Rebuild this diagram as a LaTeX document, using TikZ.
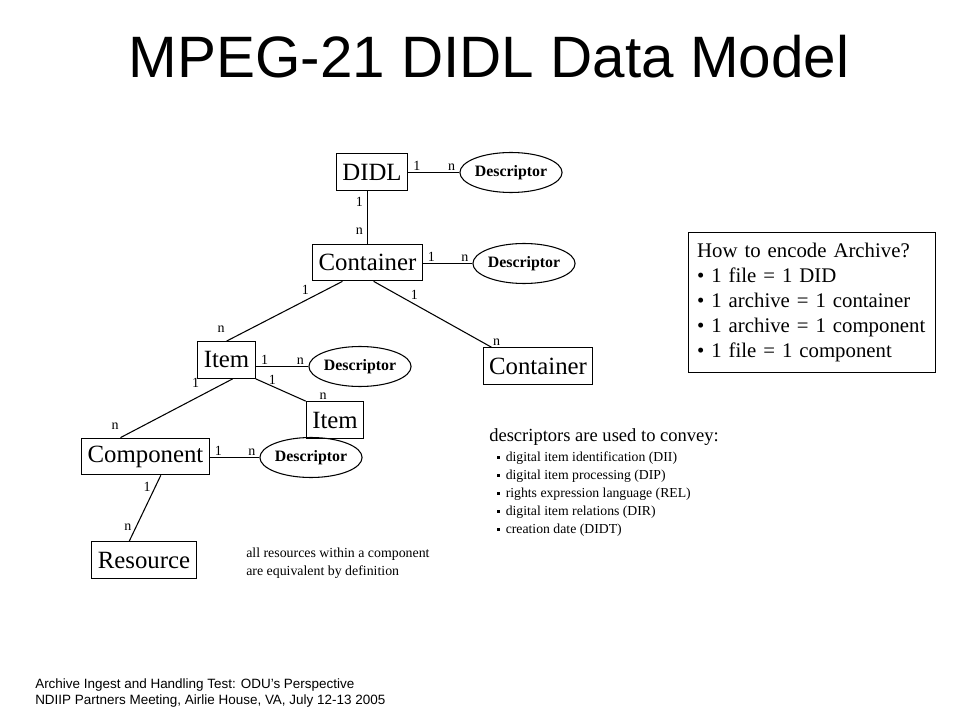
\documentclass[tikz,border=0pt]{standalone}
\usepackage{fontspec}
\setmainfont{Liberation Serif}
\newfontfamily\arialfont{Liberation Sans}
\usetikzlibrary{shapes.geometric, positioning}

\tikzset{
  entity/.style={draw, rectangle, line width=.8pt, inner xsep=4.5pt, minimum height=27.5pt, font=\fontsize{18.6}{20}\selectfont},
  descr/.style={draw, ellipse, line width=.8pt, minimum width=72.75pt, minimum height=30pt, inner sep=0pt, font=\bfseries\fontsize{11.9}{13}\selectfont},
  card/.style={inner sep=1pt, font=\fontsize{10.5}{12}\selectfont},
  link/.style={line width=.8pt},
  note/.style={inner sep=0pt, align=left},
}
\newcommand\sqbul{\rule[.45ex]{2.4pt}{2.4pt}\hspace{4pt}}

\begin{document}
\begin{tikzpicture}[x=.75pt, y=-.75pt]
    \useasboundingbox (0,0) rectangle (960,720);

    % Title
    \node (title) at (489,57) {\arialfont\fontsize{43.8}{50}\selectfont MPEG-21 DIDL Data Model};

    % Entities
    \node[entity] (didl) at (372,172) {DIDL};
    \node[entity] (cont) at (367.5,262.5) {Container};
    \node[entity] (item) at (226.5,360) {Item};
    \node[entity] (cont2) at (538,366) {Container};
    \node[entity] (item2) at (335,420) {Item};
    \node[entity] (comp) at (145.5,456.5) {Component};
    \node[entity] (res) at (144,560) {Resource};

    % Descriptors
    \node[descr] (d1) at (511,172.5) {Descriptor};
    \node[descr] (d2) at (524,263.5) {Descriptor};
    \node[descr] (d3) at (360,366.5) {Descriptor};
    \node[descr] (d4) at (311,457.5) {Descriptor};

    % Entity to descriptor (1 to n)
    \foreach \a/\d in {didl/d1, cont/d2, item/d3, comp/d4} {
        \draw[link] (\a.east |- \d) -- node[card, pos=.17, above] (\a-one) {1}
            node[card, pos=.85, above] (\a-n) {n} (\d);
    }

    % Entity to entity
    \draw[link] (cont |- didl.south) -- node[card, pos=.2, left=2pt] (dc-one) {1}
        node[card, pos=.77, left=2pt] (dc-n) {n} (cont.north);
    \draw[link] (cont.-143) -- node[card, pos=.32, above=3pt] (ci-one) {1}
        node[card, at end, anchor=south east, yshift=5pt] (ci-n) {n} (item.north);
    \draw[link] (cont.-72) -- node[card, pos=.3, above right] (cc-one) {1}
        node[card, at end, anchor=south west] (cc-n) {n} (cont2.158);
    \draw[link] (item.south east) -- node[card, pos=.33, above] (ii-one) {1}
        node[card, at end, anchor=south west, xshift=9pt] (ii-n) {n} (item2.north west);
    \draw[link] (item.-72) -- node[card, pos=.33, above=6.5pt] (ic-one) {1}
        node[card, at end, anchor=south east, yshift=5pt] (ic-n) {n} (comp.143);
    \draw[link] (comp.-51) -- node[card, pos=.18, left=2pt] (cr-one) {1}
        node[card, pos=.79, left=2pt] (cr-n) {n} (res.128);

    % Notes
    \node[note, anchor=west, font=\fontsize{10.4}{13.5}\selectfont] (equiv) at (246,563)
        {all resources within a component\\are equivalent by definition};
    \node[note, anchor=west, font=\fontsize{13.9}{16}\selectfont] (dhead) at (489,437)
        {descriptors are used to convey:};
    \node[note, below=4.5pt of dhead.south west, anchor=north west, xshift=6pt,
        font=\fontsize{10.3}{13.5}\selectfont] (dlist)
        {\sqbul digital item identification (DII)\\
         \sqbul digital item processing (DIP)\\
         \sqbul rights expression language (REL)\\
         \sqbul digital item relations (DIR)\\
         \sqbul creation date (DIDT)};

    % Archive box
    \node[draw, line width=.8pt, anchor=north west, text width=172pt, inner xsep=6.5pt,
        minimum height=105pt, align=left, font=\fontsize{15.6}{18.75}\selectfont] (howto) at (688,232)
        {How to encode Archive?\\
         • 1 file = 1 DID\\
         • 1 archive = 1 container\\
         • 1 archive = 1 component\\
         • 1 file = 1 component};

    % Footer
    \node[note, anchor=west, font=\arialfont\fontsize{10.1}{12}\selectfont] (foot) at (35,693)
        {Archive Ingest and Handling Test: ODU’s Perspective\\
         NDIIP Partners Meeting, Airlie House, VA, July 12-13 2005};
\end{tikzpicture}
\end{document}
